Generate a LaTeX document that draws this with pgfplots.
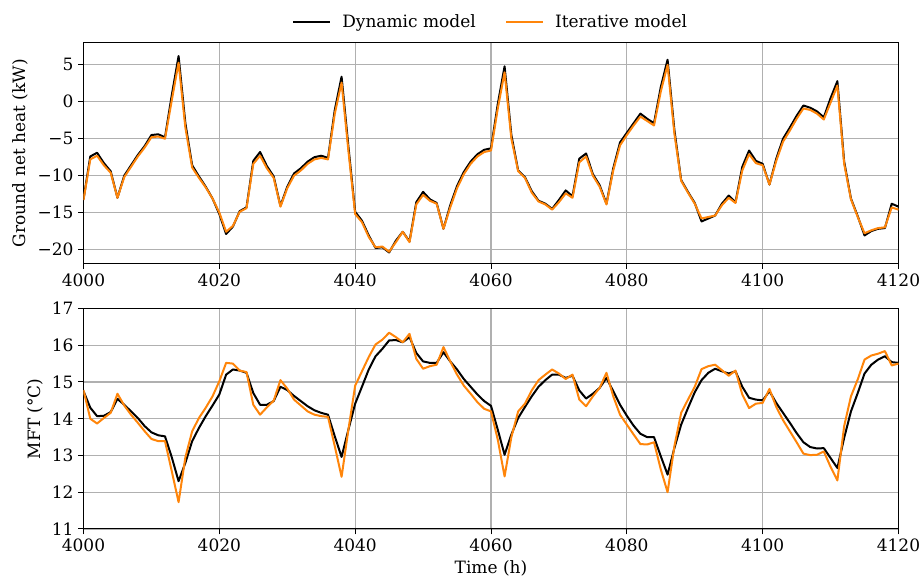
\documentclass[border=0pt]{standalone}
\usepackage{fontspec}
\setmainfont{DejaVu Serif}
\usepackage{pgfplots}
\usepackage{pgfplotstable}
\pgfplotsset{compat=1.18}

\definecolor{itorange}{RGB}{255,133,10}
\definecolor{gridgray}{RGB}{176,176,176}

% Hourly ground net heat (kW): dynamic vs iterative model
\pgfplotstableread{
h dyn ite
4000 -13.2 -13.3
4001 -7.4 -7.8
4002 -6.9 -7.3
4003 -8.3 -8.6
4004 -9.4 -9.6
4005 -13.0 -13.0
4006 -10.0 -10.2
4007 -8.6 -8.8
4008 -7.2 -7.4
4009 -6.0 -6.2
4010 -4.5 -4.8
4011 -4.4 -4.7
4012 -4.8 -5.0
4013 0.9 0.2
4014 6.2 5.3
4015 -2.9 -3.5
4016 -8.6 -8.9
4017 -10.1 -10.3
4018 -11.5 -11.6
4019 -13.1 -13.1
4020 -15.2 -15.0
4021 -17.9 -17.6
4022 -16.9 -16.8
4023 -14.8 -14.9
4024 -14.3 -14.4
4025 -8.0 -8.4
4026 -6.8 -7.3
4027 -8.7 -9.0
4028 -10.1 -10.3
4029 -14.1 -14.2
4030 -11.5 -11.7
4031 -9.7 -10.0
4032 -9.0 -9.3
4033 -8.1 -8.4
4034 -7.5 -7.8
4035 -7.3 -7.6
4036 -7.6 -7.8
4037 -1.1 -1.6
4038 3.4 2.6
4039 -6.0 -6.6
4040 -14.9 -15.2
4041 -16.1 -16.3
4042 -18.1 -18.3
4043 -19.8 -19.7
4044 -19.7 -19.6
4045 -20.4 -20.3
4046 -18.8 -19.0
4047 -17.6 -17.6
4048 -18.9 -19.0
4049 -13.6 -13.9
4050 -12.2 -12.6
4051 -13.2 -13.4
4052 -13.7 -13.8
4053 -17.2 -17.2
4054 -14.0 -14.3
4055 -11.4 -11.7
4056 -9.5 -9.8
4057 -8.1 -8.4
4058 -7.1 -7.4
4059 -6.5 -6.8
4060 -6.3 -6.6
4061 -0.3 -0.9
4062 4.8 4.0
4063 -4.5 -5.0
4064 -9.3 -9.4
4065 -10.2 -10.3
4066 -12.1 -12.3
4067 -13.4 -13.5
4068 -13.8 -13.9
4069 -14.5 -14.6
4070 -13.3 -13.6
4071 -12.0 -12.4
4072 -12.8 -13.0
4073 -7.7 -8.2
4074 -7.0 -7.4
4075 -9.8 -10.0
4076 -11.3 -11.5
4077 -13.8 -13.9
4078 -9.0 -9.3
4079 -5.5 -5.9
4080 -4.2 -4.5
4081 -2.9 -3.2
4082 -1.6 -2.0
4083 -2.3 -2.6
4084 -2.9 -3.2
4085 2.0 1.4
4086 5.7 5.0
4087 -3.8 -4.3
4088 -10.6 -10.7
4089 -12.2 -12.3
4090 -13.7 -13.8
4091 -16.2 -15.8
4092 -15.8 -15.6
4093 -15.4 -15.4
4094 -13.8 -14.0
4095 -12.7 -13.0
4096 -13.6 -13.7
4097 -8.8 -9.3
4098 -6.6 -7.1
4099 -8.0 -8.3
4100 -8.4 -8.6
4101 -11.2 -11.2
4102 -7.7 -8.0
4103 -5.0 -5.4
4104 -3.5 -3.9
4105 -1.9 -2.3
4106 -0.5 -0.9
4107 -0.8 -1.1
4108 -1.3 -1.6
4109 -2.1 -2.4
4110 0.5 -0.1
4111 2.8 2.2
4112 -8.1 -8.4
4113 -13.1 -13.2
4114 -15.5 -15.6
4115 -18.1 -17.8
4116 -17.5 -17.4
4117 -17.2 -17.1
4118 -17.1 -17.0
4119 -13.8 -14.3
4120 -14.2 -14.6
}\heattable

% Hourly mean fluid temperature (degC): dynamic vs iterative model
\pgfplotstableread{
h dyn ite
4000 14.75 14.78
4001 14.30 14.00
4002 14.07 13.87
4003 14.08 14.02
4004 14.18 14.16
4005 14.54 14.68
4006 14.38 14.36
4007 14.20 14.11
4008 14.02 13.89
4009 13.80 13.66
4010 13.63 13.45
4011 13.55 13.39
4012 13.52 13.39
4013 12.95 12.57
4014 12.30 11.73
4015 12.80 12.95
4016 13.39 13.66
4017 13.75 14.02
4018 14.07 14.30
4019 14.36 14.61
4020 14.66 15.02
4021 15.20 15.52
4022 15.34 15.50
4023 15.31 15.31
4024 15.25 15.27
4025 14.70 14.38
4026 14.38 14.11
4027 14.38 14.31
4028 14.48 14.49
4029 14.87 15.05
4030 14.78 14.82
4031 14.62 14.52
4032 14.48 14.36
4033 14.34 14.20
4034 14.23 14.11
4035 14.16 14.07
4036 14.11 14.05
4037 13.52 13.25
4038 12.96 12.42
4039 13.70 13.70
4040 14.41 14.90
4041 14.87 15.29
4042 15.34 15.68
4043 15.70 16.02
4044 15.90 16.15
4045 16.13 16.34
4046 16.14 16.22
4047 16.08 16.08
4048 16.22 16.31
4049 15.79 15.63
4050 15.56 15.36
4051 15.52 15.43
4052 15.52 15.47
4053 15.81 15.95
4054 15.56 15.56
4055 15.34 15.20
4056 15.08 14.90
4057 14.87 14.68
4058 14.66 14.45
4059 14.48 14.27
4060 14.35 14.20
4061 13.70 13.43
4062 13.02 12.43
4063 13.57 13.50
4064 14.02 14.20
4065 14.32 14.41
4066 14.61 14.77
4067 14.87 15.05
4068 15.05 15.20
4069 15.20 15.34
4070 15.20 15.23
4071 15.11 15.08
4072 15.17 15.20
4073 14.77 14.52
4074 14.55 14.34
4075 14.68 14.61
4076 14.84 14.84
4077 15.11 15.25
4078 14.75 14.61
4079 14.38 14.11
4080 14.08 13.84
4081 13.81 13.57
4082 13.59 13.31
4083 13.50 13.30
4084 13.50 13.36
4085 12.98 12.62
4086 12.48 12.00
4087 13.20 13.25
4088 13.84 14.16
4089 14.29 14.52
4090 14.72 14.87
4091 15.05 15.35
4092 15.25 15.43
4093 15.36 15.47
4094 15.29 15.32
4095 15.23 15.17
4096 15.29 15.31
4097 14.87 14.66
4098 14.57 14.29
4099 14.52 14.41
4100 14.50 14.43
4101 14.75 14.81
4102 14.43 14.32
4103 14.16 13.96
4104 13.89 13.66
4105 13.61 13.36
4106 13.36 13.05
4107 13.23 13.01
4108 13.19 13.02
4109 13.20 13.11
4110 12.93 12.69
4111 12.66 12.32
4112 13.48 13.80
4113 14.20 14.61
4114 14.70 15.07
4115 15.23 15.61
4116 15.47 15.72
4117 15.61 15.77
4118 15.70 15.84
4119 15.54 15.45
4120 15.52 15.50
}\mfttable

\pgfplotsset{
  panel/.style={
    scale only axis,
    width=611.25pt,
    xmin=4000, xmax=4120,
    xtick={4000,4020,4040,4060,4080,4100,4120},
    xticklabels={4000,4020,4040,4060,4080,4100,4120},
    grid=major,
    major grid style={gridgray, line width=0.9pt},
    tick align=outside,
    tick pos=left,
    major tick length=4pt,
    every tick/.style={black, line width=0.75pt},
    axis line style={black, line width=0.75pt},
    ticklabel style={font=\fontsize{12.75}{15}\selectfont},
    label style={font=\fontsize{12.75}{15}\selectfont},
    /pgf/number format/assume math mode=true,
    clip=true,
  },
  dynline/.style={black, line width=1.5pt, line join=round},
  iteline/.style={itorange, line width=1.5pt, line join=round},
}

\begin{document}
\begin{tikzpicture}[x=1pt, y=1pt]
\path[use as bounding box] (0,0) rectangle (691.5,434.25);

\begin{axis}[
  panel,
  at={(62.625pt,236.6pt)}, anchor=south west,
  height=165.6pt,
  ymin=-21.9, ymax=8.0,
  ytick={-20,-15,-10,-5,0,5},
  yticklabels={−20,−15,−10,−5,0,5},
  ylabel={Ground net heat (kW)},
  legend columns=2,
  legend style={draw=none, fill=none, at={(0.5,1)}, anchor=center,
    yshift=15.8pt, font=\fontsize{12.75}{15}\selectfont,
    /tikz/every even column/.append style={column sep=20pt}},
  legend image code/.code={%
    \draw[#1] (0pt,0pt) -- (27.75pt,0pt);
    \path (34pt,0pt);},
]
\addplot[dynline] table[x=h, y=dyn] {\heattable};
\addlegendentry{Dynamic model}
\addplot[iteline] table[x=h, y=ite] {\heattable};
\addlegendentry{Iterative model}
\end{axis}

\begin{axis}[
  panel,
  at={(62.625pt,37.5pt)}, anchor=south west,
  height=165.4pt,
  ymin=11, ymax=17,
  ytick={11,12,13,14,15,16,17},
  ylabel={MFT (°C)},
  xlabel={Time (h)},
]
\addplot[dynline] table[x=h, y=dyn] {\mfttable};
\addplot[iteline] table[x=h, y=ite] {\mfttable};
\end{axis}
\end{tikzpicture}
\end{document}
